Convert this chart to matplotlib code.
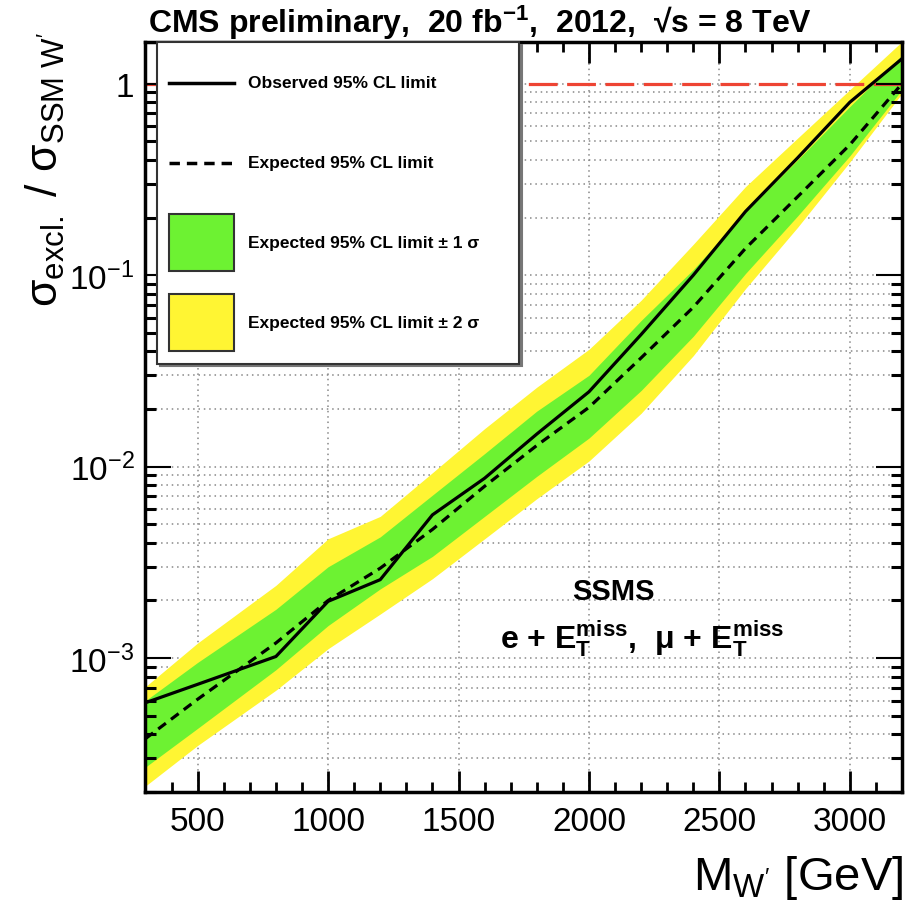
import matplotlib
matplotlib.use('Agg')
import matplotlib.pyplot as plt
from matplotlib import font_manager
from matplotlib.lines import Line2D
from matplotlib.patches import Patch
from matplotlib.legend_handler import HandlerLine2D
from matplotlib.ticker import MultipleLocator, FixedLocator, FixedFormatter, LogLocator, NullFormatter

plt.rcParams['font.family'] = ['Liberation Sans', 'DejaVu Sans']
plt.rcParams['mathtext.fontset'] = 'custom'
plt.rcParams['mathtext.rm'] = 'Liberation Sans'
plt.rcParams['mathtext.it'] = 'Liberation Sans:italic'
plt.rcParams['mathtext.bf'] = 'Liberation Sans:bold'

# W' mass points [GeV] and limits on sigma_excl / sigma_SSM
mass = [300, 500, 800, 1000, 1200, 1400, 1600, 1800, 2000, 2200, 2400, 2600, 2800, 3000, 3200]
observed = [5.85e-4, 7.3e-4, 1.02e-3, 1.98e-3, 2.57e-3, 5.6e-3, 8.7e-3, 1.48e-2, 2.46e-2,
            4.9e-2, 0.100, 0.215, 0.41, 0.80, 1.35]
expected = [3.8e-4, 6.1e-4, 1.2e-3, 2.0e-3, 2.95e-3, 4.7e-3, 7.9e-3, 1.29e-2, 2.04e-2,
            3.7e-2, 0.068, 0.138, 0.257, 0.48, 1.0]
exp_plus2 = [7.1e-4, 1.2e-3, 2.4e-3, 4.2e-3, 5.5e-3, 9.3e-3, 1.58e-2, 2.6e-2, 4.1e-2,
             7.4e-2, 0.145, 0.29, 0.52, 0.93, 1.66]
exp_plus1 = [6.0e-4, 9.5e-4, 1.8e-3, 3.0e-3, 4.3e-3, 7.1e-3, 1.17e-2, 1.95e-2, 3.0e-2,
             5.8e-2, 0.107, 0.214, 0.40, 0.76, 1.41]
exp_minus1 = [2.7e-4, 4.3e-4, 8.7e-4, 1.48e-3, 2.3e-3, 3.4e-3, 5.5e-3, 8.9e-3, 1.41e-2,
              2.5e-2, 0.048, 0.102, 0.204, 0.42, 0.93]
exp_minus2 = [2.15e-4, 3.5e-4, 6.8e-4, 1.12e-3, 1.7e-3, 2.6e-3, 4.2e-3, 6.8e-3, 1.07e-2,
              1.9e-2, 0.038, 0.085, 0.178, 0.39, 0.89]

ytick_vals = [1e-3, 1e-2, 1e-1, 1]
ytick_labels = ['10$^{\\mathregular{-3}}$', '10$^{\\mathregular{-2}}$', '10$^{\\mathregular{-1}}$', '1']

legend_labels = ['Observed 95% CL limit', 'Expected 95% CL limit',
                 'Expected 95% CL limit \u00b1 1 \u03c3', 'Expected 95% CL limit \u00b1 2 \u03c3']

green = '#6DF232'
yellow = '#FFF533'
red = '#EE4433'


class CenteredLine(HandlerLine2D):
    # put the line in the middle of the (tall) legend handle box
    def create_artists(self, legend, orig_handle, xdescent, ydescent,
                       width, height, fontsize, trans):
        return super().create_artists(legend, orig_handle, xdescent, 2 * ydescent,
                                      width, height, fontsize, trans)


fig = plt.figure(figsize=(9.07, 9.04), dpi=100)
pos = [0.1604, 0.1228, 0.8341, 0.8296]

# data layer with grid underneath
ax = fig.add_axes(pos)
ax.fill_between(mass, exp_minus2, exp_plus2, color=yellow, lw=0, zorder=2)
ax.fill_between(mass, exp_minus1, exp_plus1, color=green, lw=0, zorder=3)
ax.plot(mass, expected, color='black', lw=2.3, dashes=(3, 2), zorder=4)
ax.plot(mass, observed, color='black', lw=2.3, zorder=5)
ax.axhline(1, color=red, lw=2.3, dashes=(9, 3), zorder=4)
ax.set_yscale('log')
ax.set_xlim(300, 3200)
ax.set_ylim(2e-4, 1.65)
ax.xaxis.set_major_locator(MultipleLocator(500))
ax.yaxis.set_minor_locator(LogLocator(base=10, subs=range(2, 10)))
ax.grid(True, which='major', axis='x', color='#888888', lw=1.1, ls=(0, (1, 2.5)))
ax.grid(True, which='both', axis='y', color='#888888', lw=1.1, ls=(0, (1, 2.5)))
ax.set_axisbelow(True)
ax.tick_params(which='both', length=0, labelbottom=False, labelleft=False)
for s in ax.spines.values():
    s.set_visible(False)

# frame, ticks and legend on top
ax2 = fig.add_axes(pos, sharex=ax, sharey=ax)
ax2.patch.set_visible(False)
for s in ax2.spines.values():
    s.set_linewidth(2.5)
ax2.xaxis.set_major_locator(MultipleLocator(500))
ax2.xaxis.set_minor_locator(MultipleLocator(100))
ax2.yaxis.set_major_locator(FixedLocator(ytick_vals))
ax2.yaxis.set_major_formatter(FixedFormatter(ytick_labels))
ax2.yaxis.set_minor_locator(LogLocator(base=10, subs=range(2, 10)))
ax2.yaxis.set_minor_formatter(NullFormatter())
ax2.tick_params(which='both', direction='in', top=True, right=True, labelsize=24)
ax2.tick_params(axis='x', which='major', length=15, width=2, pad=10)
ax2.tick_params(axis='x', which='minor', length=7, width=2)
ax2.tick_params(axis='y', which='major', length=19, width=1.5, pad=8)
ax2.tick_params(axis='y', which='minor', length=8, width=2.2)

handles = [Line2D([], [], color='black', lw=2.5),
           Line2D([], [], color='black', lw=2.5, dashes=(3, 2)),
           Patch(facecolor=green, edgecolor='#333333', lw=1.5),
           Patch(facecolor=yellow, edgecolor='#333333', lw=1.5)]
leg = ax2.legend(handles, legend_labels, loc='upper left',
                 bbox_to_anchor=(0.0152, 0.5707, 0.4785, 0.4293), mode='expand',
                 prop={'family': 'Liberation Sans', 'weight': 'bold', 'size': 12.5},
                 handleheight=4.67, handlelength=3.69, labelspacing=1.32,
                 borderpad=0.72, handletextpad=0.81, borderaxespad=0,
                 fancybox=False, framealpha=1, edgecolor='#333333',
                 shadow={'color': '#777777', 'alpha': 1},
                 handler_map={Line2D: CenteredLine()})
leg.get_frame().set_linewidth(1.5)

try:
    font_manager.findfont('Liberation Sans Narrow', fallback_to_default=False)
    title_font, title_size = ['Liberation Sans Narrow', 'DejaVu Sans'], 27
except ValueError:
    title_font, title_size = ['Liberation Sans', 'DejaVu Sans'], 23

fig.text(148 / 907, 1 - 33 / 904,
         'CMS preliminary,  20 fb$^{\\mathregular{-1}}$,  2012,  \u221as = 8 TeV',
         family=title_font, fontsize=title_size, fontweight='bold', va='baseline', ha='left')

fig.text(45 / 907, 1 - 170 / 904,
         '\u03c3$_{\\mathregular{excl.}}$ / \u03c3$_{\\mathregular{SSM\\ W\'}}$',
         fontsize=32, rotation=90, ha='center', va='center')
fig.text(903 / 907, 1 - 890 / 904, 'M$_{\\mathregular{W\'}}$ [GeV]',
         fontsize=34, ha='right', va='baseline')

ax2.text(0.619, 0.268, 'SSMS', transform=ax2.transAxes, fontsize=21,
         fontweight='bold', ha='center', va='center')
ax2.text(0.657, 0.205, 'e + E$_{\\mathbf{T}}^{\\mathbf{miss}}$,  \u03bc + E$_{\\mathbf{T}}^{\\mathbf{miss}}$',
         transform=ax2.transAxes, fontsize=23, fontweight='bold', ha='center', va='center')

fig.savefig('out.png', dpi=100)
